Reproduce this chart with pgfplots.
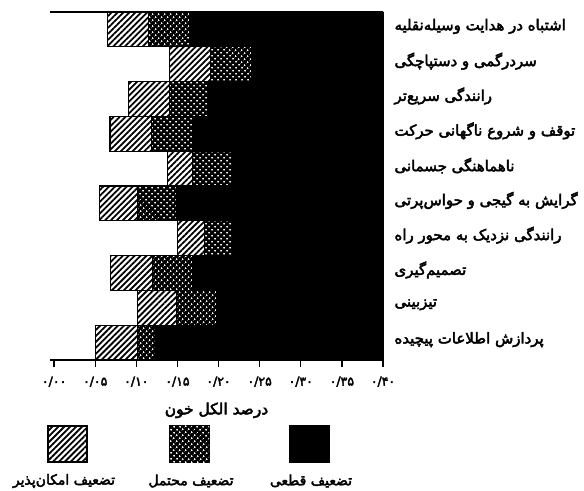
\documentclass[border=0pt]{standalone}
\usepackage{fontspec}
\usepackage{pgfplots}
\pgfplotsset{compat=1.18}
\usetikzlibrary{patterns.meta}
\TeXXeTstate=1
\newfontfamily\fa[Script=Arabic, FakeBold=3]{DejaVu Sans}
\newcommand\R[1]{{\fa\beginR #1\endR}}
\tikzset{
  hatchA/.style={fill=white, postaction={pattern={Lines[angle=45,distance=4.2pt,line width=1.8pt]}}},
  dotsB/.style={fill=black, postaction={pattern={Dots[angle=45,distance=4pt,radius=1.1pt]}, pattern color=white}},
}
\begin{document}
\begin{tikzpicture}[x=1bp,y=1bp]
\useasboundingbox (-50,-131) rectangle (534,360);
\begin{axis}[
  at={(0,0)}, anchor=south west,
  scale only axis, width=333bp, height=348bp,
  xmin=-0.005, xmax=0.40, ymin=0.5, ymax=10.5,
  y dir=reverse,
  xbar stacked, bar width=1,
  axis x line*=box, axis y line*=right,
  xtick pos=bottom,
  axis line style={line width=1.3pt},
  xtick={0,0.05,...,0.40},
  xticklabels={۰/۰۰,۰/۰۵,۰/۱۰,۰/۱۵,۰/۲۰,۰/۲۵,۰/۳۰,۰/۳۵,۰/۴۰},
  xticklabel style={font=\fa\fontsize{12.5}{14}\selectfont, yshift=-6bp},
  tick align=outside, major tick length=7bp,
  xtick style={line width=1.3pt, black},
  ytick={1,...,10},
  ytick style={draw=none},
  yticklabel pos=right,
  yticklabels={
    \R{اشتباه در هدایت وسیله‌نقلیه},
    \R{سردرگمی و دستپاچگی},
    \R{رانندگی سریع‌تر},
    \R{توقف و شروع ناگهانی حرکت},
    \R{ناهماهنگی جسمانی},
    \R{گرایش به گیجی و حواس‌پرتی},
    \R{رانندگی نزدیک به محور راه},
    \R{تصمیم‌گیری},
    \R{تیزبینی},
    \R{پردازش اطلاعات پیچیده}},
  yticklabel style={font=\fontsize{15}{17}\selectfont, yshift=3bp, xshift=1bp},
  xlabel={\R{درصد الکل خون}},
  xlabel style={font=\fontsize{15.5}{17}\selectfont, yshift=-9bp},
]
\addplot[draw=none, fill=none] coordinates {
  (0.065,1) (0.140,2) (0.090,3) (0.068,4) (0.138,5)
  (0.055,6) (0.150,7) (0.069,8) (0.101,9) (0.050,10)};
\addplot[draw=black, line width=1.2pt, hatchA] coordinates {
  (0.050,1) (0.050,2) (0.050,3) (0.050,4) (0.030,5)
  (0.046,6) (0.033,7) (0.051,8) (0.048,9) (0.051,10)};
\addplot[draw=black, line width=1.2pt, dotsB] coordinates {
  (0.050,1) (0.050,2) (0.047,3) (0.050,4) (0.048,5)
  (0.048,6) (0.033,7) (0.049,8) (0.049,9) (0.023,10)};
\addplot[draw=black, fill=black, line width=1.2pt] coordinates {
  (0.235,1) (0.160,2) (0.213,3) (0.232,4) (0.184,5)
  (0.251,6) (0.184,7) (0.231,8) (0.202,9) (0.276,10)};
\end{axis}
% legend
\draw[line width=1.2pt, hatchA] (-2,-66) rectangle (37,-102);
\draw[line width=1.2pt, dotsB] (120,-66) rectangle (159,-102);
\draw[line width=1.2pt, fill=black] (240,-66) rectangle (279,-102);
\node[font=\fontsize{14}{16}\selectfont] at (14,-121) {\R{تضعیف امکان‌پذیر}};
\node[font=\fontsize{14}{16}\selectfont] at (141,-121) {\R{تضعیف محتمل}};
\node[font=\fontsize{14}{16}\selectfont] at (261,-121) {\R{تضعیف قطعی}};
\end{tikzpicture}
\end{document}
